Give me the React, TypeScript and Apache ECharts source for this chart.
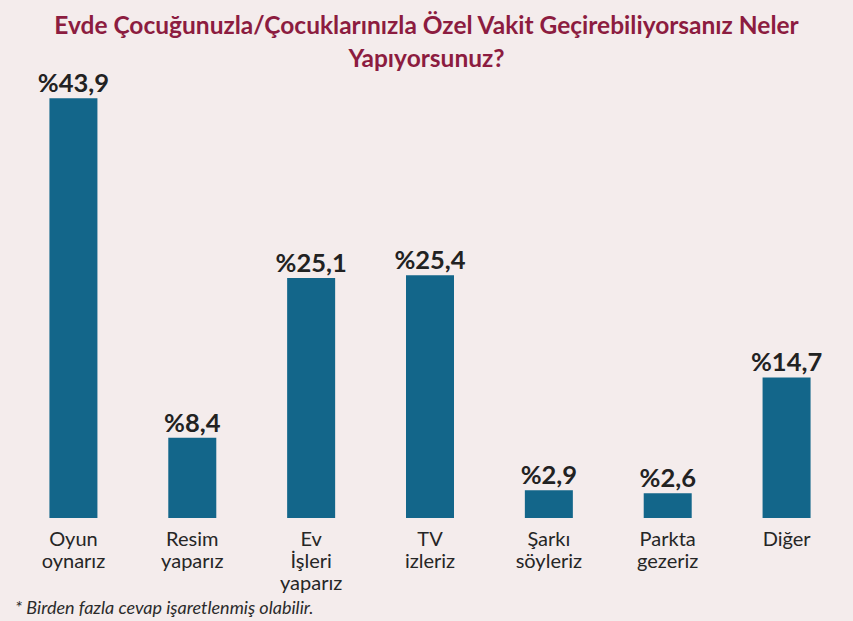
import React, { useEffect, useRef } from "react";
import * as echarts from "echarts";

const titleText = "Evde Çocuğunuzla/Çocuklarınızla Özel Vakit Geçirebiliyorsanız Neler\nYapıyorsunuz?";
const categories = ["Oyun\noynarız", "Resim\nyaparız", "Ev\nİşleri\nyaparız", "TV\nizleriz", "Şarkı\nsöyleriz", "Parkta\ngezeriz", "Diğer"];
const values = [43.9, 8.4, 25.1, 25.4, 2.9, 2.6, 14.7];
const footnote = "* Birden fazla cevap işaretlenmiş olabilir.";

const FONT = "Lato, 'Open Sans', sans-serif";

export default function App() {
  const ref = useRef<HTMLDivElement>(null);
  useEffect(() => {
    if (!ref.current) return;
    const chart = echarts.init(ref.current, null, { renderer: "svg" });
    chart.setOption({
      animation: false,
      backgroundColor: "#f4ecec",
      title: {
        text: titleText,
        left: "center",
        top: 3,
        textStyle: {
          fontFamily: FONT,
          fontSize: 24.5,
          fontWeight: "bold",
          color: "#8c1c40",
          lineHeight: 33,
        },
      },
      grid: { left: 14, right: 7, top: 40, bottom: 103, containLabel: false },
      xAxis: {
        type: "category",
        data: categories,
        axisLine: { show: false },
        axisTick: { show: false },
        axisLabel: {
          interval: 0,
          margin: 9,
          fontFamily: FONT,
          fontSize: 20,
          lineHeight: 22,
          color: "#262626",
          verticalAlign: "top",
        },
      },
      yAxis: {
        type: "value",
        min: 0,
        max: 50,
        show: false,
        splitLine: { show: false },
      },
      series: [
        {
          type: "bar",
          data: values,
          barWidth: 48,
          itemStyle: { color: "#13668a" },
          label: {
            show: true,
            position: "top",
            distance: 3,
            formatter: (p: any) => "%" + String(p.value).replace(".", ","),
            fontFamily: FONT,
            fontSize: 25.5,
            fontWeight: "bold",
            color: "#222222",
          },
        },
      ],
      graphic: [
        {
          type: "text",
          left: 15,
          top: 598,
          style: {
            text: footnote,
            fontFamily: FONT,
            fontSize: 18,
            fontStyle: "italic",
            fill: "#2b2b2b",
          },
        },
      ],
    });
    return () => chart.dispose();
  }, []);
  return <div ref={ref} style={{ width: 853, height: 621, position: "absolute", left: 0, top: 0 }} />;
}
